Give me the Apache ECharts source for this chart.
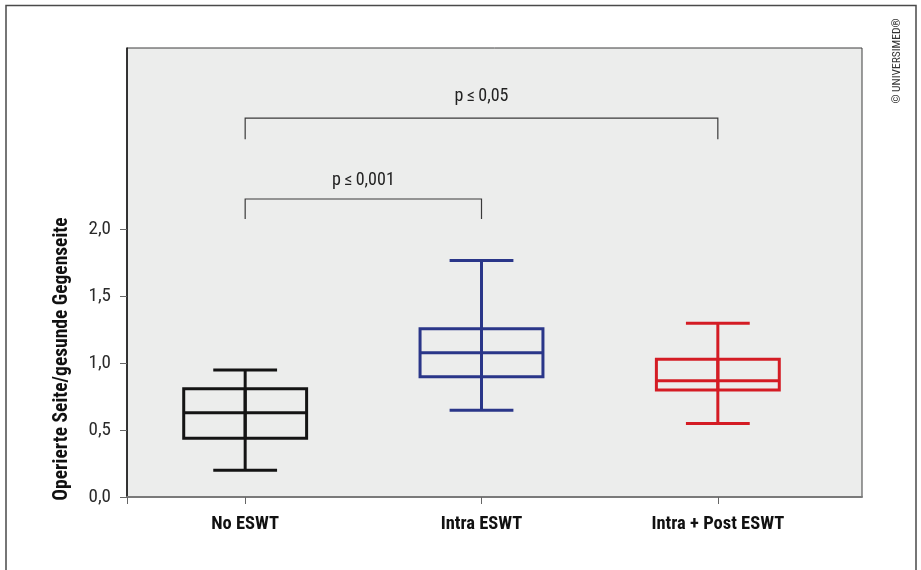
<!DOCTYPE html>
<html>
<head>
<meta charset="utf-8">
<script src="https://cdn.jsdelivr.net/npm/echarts@6/dist/echarts.min.js"></script>
<style>
html,body{margin:0;padding:0;background:#fff;}
#chart{width:921px;height:570px;}
</style>
</head>
<body>
<div id="chart"></div>
<script>
// ---- data ----
var categories = ['No ESWT', 'Intra ESWT', 'Intra + Post ESWT'];
var categoryPos = [1, 2, 3];
var whiskerLow = [0.20, 0.65, 0.55];
var q1 = [0.44, 0.90, 0.80];
var median = [0.63, 1.08, 0.87];
var q3 = [0.81, 1.26, 1.03];
var whiskerHigh = [0.95, 1.77, 1.30];
var boxColors = ['#141414', '#2a3689', '#d41c24'];
var yTicks = [0, 0.5, 1.0, 1.5, 2.0];
// significance brackets
var bracketFrom = [1, 1];
var bracketTo = [3, 2];
var bracketLevel = [2.835, 2.23];
var bracketDrop = [2.678, 2.08];
var bracketLabelY = [3.0, 2.37];
var bracketLabels = ['p\u2009\u2264\u20090,05', 'p\u2009\u2264\u20090,001'];

var FONT = '"Liberation Sans Narrow", "Roboto Condensed", Roboto, "Liberation Sans", sans-serif';

var boxData = categoryPos.map(function (x, i) {
  return [x, whiskerLow[i], q1[i], median[i], q3[i], whiskerHigh[i], i];
});
var bracketData = bracketFrom.map(function (x, i) {
  return [x, bracketTo[i], bracketLevel[i], bracketDrop[i], bracketLabelY[i], i];
});

var chart = echarts.init(document.getElementById('chart'), null, {renderer: 'canvas'});

function renderBox(params, api) {
  var x = api.value(0);
  var i = api.value(6);
  var pLow = api.coord([x, api.value(1)]);
  var pQ1 = api.coord([x, api.value(2)]);
  var pMed = api.coord([x, api.value(3)]);
  var pQ3 = api.coord([x, api.value(4)]);
  var pHigh = api.coord([x, api.value(5)]);
  var bw = api.size([0.52, 0])[0];
  var cw = api.size([0.27, 0])[0];
  var cx = pMed[0];
  var style = {stroke: boxColors[i], lineWidth: 3, fill: null};
  return {
    type: 'group',
    children: [
      {type: 'line', shape: {x1: cx, y1: pHigh[1], x2: cx, y2: pLow[1]}, style: style},
      {type: 'rect', shape: {x: cx - bw / 2, y: pQ3[1], width: bw, height: pQ1[1] - pQ3[1]}, style: style},
      {type: 'line', shape: {x1: cx - bw / 2, y1: pMed[1], x2: cx + bw / 2, y2: pMed[1]}, style: style},
      {type: 'line', shape: {x1: cx, y1: pQ3[1], x2: cx, y2: pQ1[1]}, style: style},
      {type: 'line', shape: {x1: cx - cw / 2, y1: pHigh[1], x2: cx + cw / 2, y2: pHigh[1]}, style: style},
      {type: 'line', shape: {x1: cx - cw / 2, y1: pLow[1], x2: cx + cw / 2, y2: pLow[1]}, style: style}
    ]
  };
}

function renderBracket(params, api) {
  var a = api.coord([api.value(0), api.value(2)]);
  var b = api.coord([api.value(1), api.value(2)]);
  var d = api.coord([api.value(0), api.value(3)]);
  var t = api.coord([(api.value(0) + api.value(1)) / 2, api.value(4)]);
  var i = api.value(5);
  var style = {stroke: '#3a3a3a', lineWidth: 1.2, fill: null};
  return {
    type: 'group',
    children: [
      {type: 'polyline', shape: {points: [[a[0], d[1]], [a[0], a[1]], [b[0], b[1]], [b[0], d[1]]]}, style: style},
      {type: 'text', x: t[0], y: t[1], style: {text: bracketLabels[i], fill: '#222', font: '18px ' + FONT, align: 'center', verticalAlign: 'middle'}}
    ]
  };
}

var option = {
  animation: false,
  backgroundColor: '#ffffff',
  grid: {left: 127, top: 48, right: 59, bottom: 73, show: true, backgroundColor: '#ecedec', borderColor: '#3c3c3c', borderWidth: 1},
  xAxis: {
    type: 'value',
    min: 0.5,
    max: 3.61,
    splitLine: {show: false},
    axisLine: {show: true, onZero: false, lineStyle: {color: '#7a7a7a', width: 2}},
    axisTick: {show: true, length: 7, customValues: [0.5, 1, 2, 3], lineStyle: {color: '#666', width: 1}},
    axisLabel: {
      customValues: categoryPos,
      margin: 18,
      fontFamily: FONT, fontWeight: 'bold', fontSize: 18.5, color: '#111',
      formatter: function (v) { return categories[Math.round(v) - 1]; }
    }
  },
  yAxis: {
    type: 'value',
    min: 0,
    max: 3.36,
    splitLine: {show: false},
    axisLine: {show: true, lineStyle: {color: '#111', width: 1.5}},
    axisTick: {show: true, length: 7, customValues: yTicks, lineStyle: {color: '#666', width: 1}},
    axisLabel: {
      customValues: yTicks,
      margin: 16,
      fontFamily: FONT, fontSize: 19, color: '#2a2a2a',
      formatter: function (v) { return v.toFixed(1).replace('.', ','); }
    }
  },
  series: [
    {type: 'custom', renderItem: renderBox, data: boxData, encode: {x: 0, y: [1, 5]}, z: 3},
    {type: 'custom', renderItem: renderBracket, data: bracketData, encode: {x: [0, 1], y: [2, 4]}, z: 3}
  ],
  graphic: [
    {type: 'polyline', shape: {points: [[6, 570], [6, 5.5], [916, 5.5], [916, 570]]}, style: {stroke: '#4a4a4a', lineWidth: 1.5, fill: null}},
    {type: 'text', x: 62, y: 359, rotation: Math.PI / 2, style: {text: 'Operierte Seite/gesunde Gegenseite', font: 'bold 19.5px ' + FONT, fill: '#111', align: 'center', verticalAlign: 'middle'}},
    {type: 'text', x: 897, y: 61, rotation: Math.PI / 2, style: {text: '\u00a9 UNIVERSIMED\u00ae', font: '11.5px ' + FONT, fill: '#333', align: 'center', verticalAlign: 'middle'}}
  ]
};
chart.setOption(option);
</script>
</body>
</html>
